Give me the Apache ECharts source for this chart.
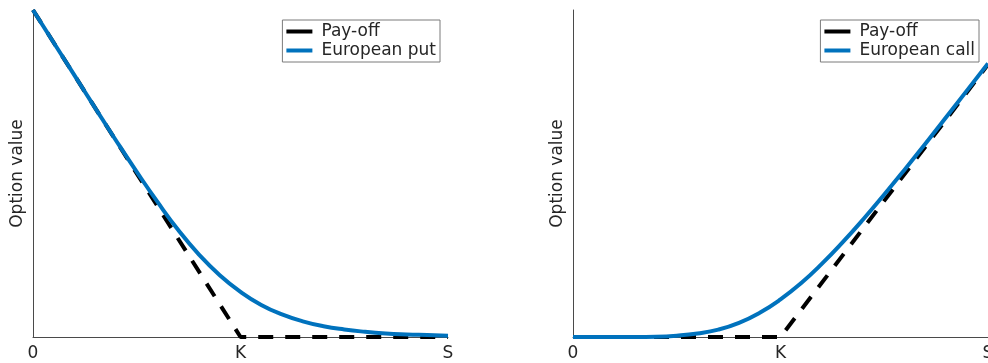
<!DOCTYPE html>
<html>
<head>
<meta charset="utf-8">
<script src="https://cdn.jsdelivr.net/npm/echarts@6/dist/echarts.min.js"></script>
<style>
  html, body { margin: 0; padding: 0; background: #fff; }
  #chart { width: 988px; height: 363px; }
</style>
</head>
<body>
<div id="chart"></div>
<script>
// Underlying price grid (K = 1, S = 2)
const spot = [0, 0.1, 0.2, 0.3, 0.4, 0.5, 0.6, 0.7, 0.8, 0.9, 1.0,
              1.1, 1.2, 1.3, 1.4, 1.5, 1.6, 1.7, 1.8, 1.9, 2.0];

// European option values on that grid
const putValue = [1.0, 0.9, 0.8, 0.7, 0.601, 0.505, 0.413, 0.327, 0.252, 0.189, 0.138,
                  0.098, 0.069, 0.048, 0.033, 0.023, 0.016, 0.011, 0.008, 0.006, 0.004];
const callValue = [0, 0, 0, 0, 0.001, 0.005, 0.013, 0.027, 0.052, 0.089, 0.138,
                   0.198, 0.269, 0.348, 0.433, 0.523, 0.616, 0.711, 0.808, 0.906, 1.004];

// Pay-off kinks
const payoffSpot = [0, 1, 2];
const putPayoff = [1, 0, 0];
const callPayoff = [0, 0, 1];

// Tick labels on the price axis
const xTickLabels = ['0', 'K', 'S'];

const FONT = 'DejaVu Sans';
const TEXT = '#262626';
const AXIS = '#4a4a4a';
const BLUE = '#0072BD';

const pairs = (xs, ys) => xs.map((x, i) => [x, ys[i]]);

function xAxisFor(gridIndex) {
  return {
    type: 'value', gridIndex, min: 0, max: 2, interval: 1,
    axisLine: { show: true, lineStyle: { color: AXIS, width: 1 } },
    axisTick: { show: false },
    splitLine: { show: false },
    axisLabel: {
      margin: 8, fontFamily: FONT, fontSize: 17, color: TEXT,
      formatter: v => xTickLabels[Math.round(v)]
    }
  };
}
function yAxisFor(gridIndex, max) {
  return {
    type: 'value', gridIndex, min: 0, max,
    axisLine: { show: true, lineStyle: { color: AXIS, width: 1 } },
    axisTick: { show: false },
    splitLine: { show: false },
    axisLabel: { show: false },
    name: 'Option value', nameLocation: 'middle', nameGap: 7,
    nameTextStyle: { fontFamily: FONT, fontSize: 17, color: TEXT }
  };
}
// Legend swatch: a short thick solid bar
const SWATCH = 'path://M0,0 L26,0 L26,4 L0,4 Z';
function legendFor(right, name) {
  return {
    top: 20, right, orient: 'vertical',
    backgroundColor: '#fff', borderColor: '#7a7a7a', borderWidth: 1,
    padding: [3, 4, 3, 4], itemGap: 2, itemWidth: 26, itemHeight: 14,
    textStyle: { fontFamily: FONT, fontSize: 17, color: TEXT, padding: [0, 0, 0, 4] },
    data: [
      { name: 'Pay-off', icon: SWATCH, itemStyle: { color: '#000' },
        lineStyle: { type: 'solid', color: '#000', width: 0 } },
      { name, icon: SWATCH, itemStyle: { color: BLUE },
        lineStyle: { type: 'solid', color: BLUE, width: 0 } }
    ]
  };
}

const chart = echarts.init(document.getElementById('chart'), null, { renderer: 'canvas' });
chart.setOption({
  animation: false,
  backgroundColor: '#fff',
  grid: [
    { left: 33, right: 540, top: 10, bottom: 26, outerBoundsMode: 'none' },
    { left: 573, right: 0, top: 10, bottom: 26, outerBoundsMode: 'none' }
  ],
  xAxis: [xAxisFor(0), xAxisFor(1)],
  yAxis: [yAxisFor(0, 1), yAxisFor(1, 1.2)],
  legend: [legendFor(548, 'European put'), legendFor(9, 'European call')],
  series: [
    {
      name: 'Pay-off', type: 'line', xAxisIndex: 0, yAxisIndex: 0,
      data: pairs(payoffSpot, putPayoff), symbol: 'none', clip: false,
      lineStyle: { color: '#000', width: 4, type: [15, 12] }, itemStyle: { color: '#000' }
    },
    {
      name: 'European put', type: 'line', xAxisIndex: 0, yAxisIndex: 0,
      data: pairs(spot, putValue), symbol: 'none', smooth: 0.5, clip: false,
      lineStyle: { color: BLUE, width: 4 }, itemStyle: { color: BLUE }
    },
    {
      name: 'Pay-off', type: 'line', xAxisIndex: 1, yAxisIndex: 1,
      data: pairs(payoffSpot, callPayoff), symbol: 'none', clip: false,
      lineStyle: { color: '#000', width: 4, type: [15, 12] }, itemStyle: { color: '#000' }
    },
    {
      name: 'European call', type: 'line', xAxisIndex: 1, yAxisIndex: 1,
      data: pairs(spot, callValue), symbol: 'none', smooth: 0.5, clip: false,
      lineStyle: { color: BLUE, width: 4 }, itemStyle: { color: BLUE }
    }
  ]
});
</script>
</body>
</html>
